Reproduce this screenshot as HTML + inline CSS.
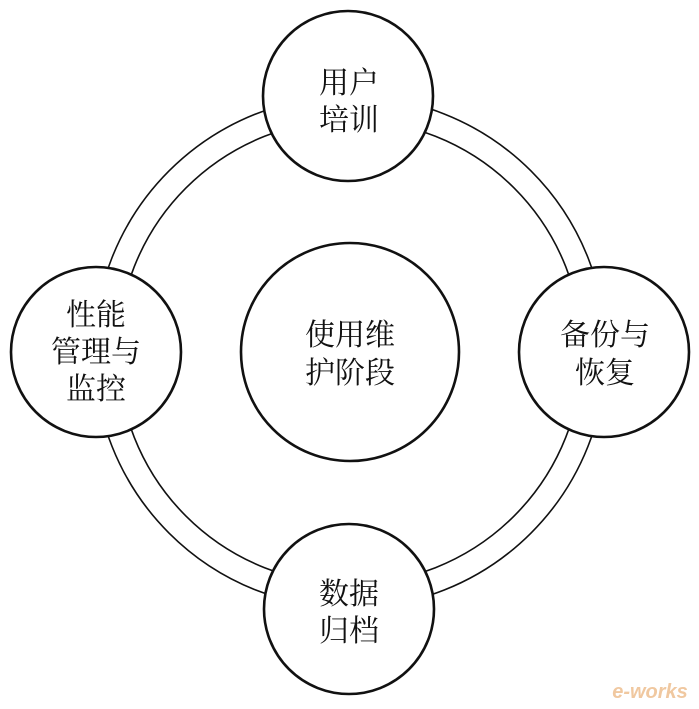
<!DOCTYPE html>
<html><head><meta charset="utf-8"><style>
html,body{margin:0;padding:0;background:#fff;}
svg{display:block;}
text{font-family:"Liberation Serif","Noto Serif CJK SC","Noto Sans CJK SC",serif;font-size:30px;fill:#111;text-anchor:middle;}
</style></head><body>
<svg width="699" height="709" viewBox="0 0 699 709" xmlns="http://www.w3.org/2000/svg">
<rect width="699" height="709" fill="#fff"/>
<g fill="none" stroke="#111" stroke-width="1.6">
<circle cx="350" cy="352" r="256"/>
<circle cx="350" cy="352" r="232"/>
</g>
<g fill="#fff" stroke="#111" stroke-width="2.6">
<circle cx="350" cy="352" r="109"/>
<circle cx="348" cy="96" r="85"/>
<circle cx="96" cy="352" r="85"/>
<circle cx="604" cy="352" r="85"/>
<circle cx="349" cy="609" r="85"/>
</g>
<text x="349" y="93">用户</text>
<text x="349" y="130">培训</text>
<text x="350" y="345">使用维</text>
<text x="350" y="383">护阶段</text>
<text x="96" y="325">性能</text>
<text x="96" y="362">管理与</text>
<text x="96" y="399">监控</text>
<text x="605" y="345">备份与</text>
<text x="605" y="383">恢复</text>
<text x="349" y="604">数据</text>
<text x="349" y="641">归档</text>
<text x="650" y="698" style="font-family:'Liberation Sans',sans-serif;font-size:20px;font-style:italic;font-weight:bold;fill:#f0c8a0;">e-works</text>
</svg>
</body></html>
